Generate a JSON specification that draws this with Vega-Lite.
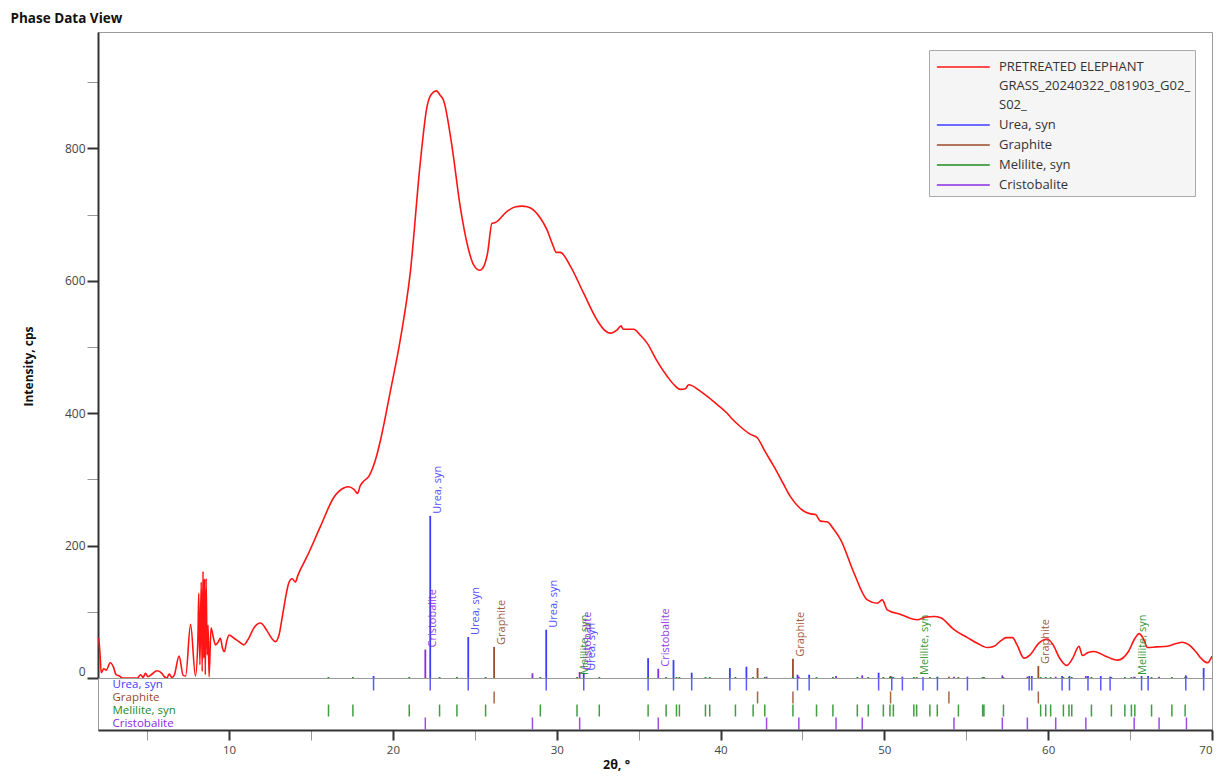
{
  "$schema": "https://vega.github.io/schema/vega-lite/v6.json",
  "padding": {"left": 10, "top": 12, "right": 4, "bottom": 2},
  "background": "white",
  "title": {
    "text": "Phase Data View",
    "anchor": "start",
    "font": "Open Sans",
    "fontSize": 13.5,
    "fontWeight": "bold",
    "color": "#111111",
    "dx": -11,
    "offset": 6
  },
  "config": {
    "font": "Open Sans",
    "view": {"stroke": "#9a9a9a", "strokeWidth": 1}
  },
  "bounds": "flush",
  "datasets": {
    "curve": [
      {"t": 2.05, "c": 60}, {"t": 2.12, "c": 38}, {"t": 2.2, "c": 8}, {"t": 2.35, "c": 14}, {"t": 2.5, "c": 12},
      {"t": 2.75, "c": 23}, {"t": 2.95, "c": 16}, {"t": 3.1, "c": 5}, {"t": 3.3, "c": 3}, {"t": 3.5, "c": 0},
      {"t": 4.4, "c": 0}, {"t": 4.6, "c": 5}, {"t": 4.75, "c": 1}, {"t": 4.9, "c": 7}, {"t": 5.05, "c": 2},
      {"t": 5.3, "c": 6}, {"t": 5.6, "c": 11}, {"t": 5.9, "c": 7}, {"t": 6.05, "c": 2}, {"t": 6.2, "c": 0},
      {"t": 6.35, "c": 6}, {"t": 6.5, "c": 1}, {"t": 6.65, "c": 4}, {"t": 6.95, "c": 33}, {"t": 7.2, "c": 4},
      {"t": 7.35, "c": 3}, {"t": 7.65, "c": 81}, {"t": 7.95, "c": 3}, {"t": 8.1, "c": 60}, {"t": 8.15, "c": 128},
      {"t": 8.22, "c": 20}, {"t": 8.3, "c": 145}, {"t": 8.36, "c": 10}, {"t": 8.41, "c": 161}, {"t": 8.46, "c": 30},
      {"t": 8.5, "c": 150}, {"t": 8.55, "c": 5}, {"t": 8.6, "c": 150}, {"t": 8.66, "c": 35}, {"t": 8.72, "c": 80},
      {"t": 8.78, "c": 2}, {"t": 8.9, "c": 76}, {"t": 9.05, "c": 60}, {"t": 9.17, "c": 50}, {"t": 9.35, "c": 55},
      {"t": 9.47, "c": 60}, {"t": 9.6, "c": 45}, {"t": 9.72, "c": 40}, {"t": 9.85, "c": 55}, {"t": 10.0, "c": 65},
      {"t": 10.3, "c": 60}, {"t": 10.6, "c": 55}, {"t": 10.9, "c": 50}, {"t": 11.2, "c": 60}, {"t": 11.5, "c": 75},
      {"t": 11.92, "c": 83}, {"t": 12.3, "c": 72}, {"t": 12.6, "c": 60}, {"t": 12.83, "c": 55}, {"t": 13.05, "c": 65},
      {"t": 13.3, "c": 100}, {"t": 13.65, "c": 144}, {"t": 13.85, "c": 150}, {"t": 14.05, "c": 145}, {"t": 14.2, "c": 155},
      {"t": 14.77, "c": 184}, {"t": 15.58, "c": 229}, {"t": 16.4, "c": 273}, {"t": 17.0, "c": 287}, {"t": 17.3, "c": 289},
      {"t": 17.62, "c": 285}, {"t": 17.85, "c": 279}, {"t": 18.0, "c": 290}, {"t": 18.2, "c": 297}, {"t": 18.54, "c": 305},
      {"t": 19.0, "c": 335}, {"t": 19.25, "c": 360}, {"t": 19.86, "c": 435}, {"t": 20.45, "c": 511}, {"t": 21.06, "c": 612},
      {"t": 21.67, "c": 778}, {"t": 22.08, "c": 863}, {"t": 22.35, "c": 882}, {"t": 22.65, "c": 887}, {"t": 22.9, "c": 880},
      {"t": 23.09, "c": 873}, {"t": 23.61, "c": 803}, {"t": 24.11, "c": 712}, {"t": 24.62, "c": 647}, {"t": 24.93, "c": 624},
      {"t": 25.29, "c": 616}, {"t": 25.55, "c": 622}, {"t": 25.78, "c": 642}, {"t": 26.05, "c": 687}, {"t": 26.25, "c": 688},
      {"t": 26.97, "c": 705}, {"t": 27.5, "c": 712}, {"t": 27.88, "c": 713}, {"t": 28.2, "c": 712}, {"t": 28.59, "c": 707},
      {"t": 29.0, "c": 695}, {"t": 29.41, "c": 677}, {"t": 29.75, "c": 655}, {"t": 29.98, "c": 643}, {"t": 30.22, "c": 643},
      {"t": 30.84, "c": 622}, {"t": 31.65, "c": 581}, {"t": 32.46, "c": 541}, {"t": 32.9, "c": 526}, {"t": 33.28, "c": 521},
      {"t": 33.69, "c": 526}, {"t": 33.93, "c": 532}, {"t": 34.05, "c": 527}, {"t": 34.19, "c": 527}, {"t": 34.7, "c": 527},
      {"t": 35.1, "c": 518}, {"t": 35.52, "c": 506}, {"t": 36.1, "c": 480}, {"t": 36.74, "c": 456}, {"t": 37.2, "c": 442},
      {"t": 37.55, "c": 436}, {"t": 37.85, "c": 437}, {"t": 38.06, "c": 443}, {"t": 38.78, "c": 433}, {"t": 39.8, "c": 413},
      {"t": 40.4, "c": 400}, {"t": 40.61, "c": 394}, {"t": 41.2, "c": 380}, {"t": 41.83, "c": 368}, {"t": 42.24, "c": 363},
      {"t": 42.7, "c": 343}, {"t": 43.25, "c": 320}, {"t": 43.8, "c": 295}, {"t": 44.27, "c": 274}, {"t": 45.09, "c": 252},
      {"t": 45.5, "c": 248}, {"t": 45.8, "c": 247}, {"t": 46.1, "c": 237}, {"t": 46.51, "c": 236}, {"t": 46.9, "c": 225},
      {"t": 47.33, "c": 209}, {"t": 48.14, "c": 159}, {"t": 48.96, "c": 118}, {"t": 49.57, "c": 113}, {"t": 49.87, "c": 118},
      {"t": 50.18, "c": 103}, {"t": 50.99, "c": 96}, {"t": 52.01, "c": 88}, {"t": 52.5, "c": 92}, {"t": 53.03, "c": 93},
      {"t": 53.44, "c": 91}, {"t": 54.25, "c": 73}, {"t": 55.07, "c": 61}, {"t": 55.7, "c": 52}, {"t": 56.29, "c": 46},
      {"t": 56.7, "c": 48}, {"t": 57.1, "c": 56}, {"t": 57.45, "c": 61}, {"t": 57.82, "c": 61}, {"t": 58.1, "c": 50},
      {"t": 58.52, "c": 30}, {"t": 58.9, "c": 35}, {"t": 59.4, "c": 52}, {"t": 59.95, "c": 59}, {"t": 60.3, "c": 50},
      {"t": 60.7, "c": 30}, {"t": 61.13, "c": 19}, {"t": 61.5, "c": 30}, {"t": 61.88, "c": 48}, {"t": 62.09, "c": 34},
      {"t": 62.4, "c": 38}, {"t": 62.8, "c": 40}, {"t": 63.5, "c": 33}, {"t": 64.23, "c": 27}, {"t": 64.9, "c": 40},
      {"t": 65.3, "c": 60}, {"t": 65.55, "c": 67}, {"t": 65.8, "c": 60}, {"t": 66.06, "c": 46}, {"t": 66.6, "c": 47},
      {"t": 67.28, "c": 48}, {"t": 67.8, "c": 52}, {"t": 68.2, "c": 54}, {"t": 68.6, "c": 50}, {"t": 69.0, "c": 40},
      {"t": 69.4, "c": 28}, {"t": 69.73, "c": 23}, {"t": 70.0, "c": 33}
    ],
    "lines": [
      {"phase": "Urea, syn", "t": 18.82, "i": 3, "lab": 0},
      {"phase": "Urea, syn", "t": 22.28, "i": 245, "lab": 1},
      {"phase": "Urea, syn", "t": 24.6, "i": 62, "lab": 1},
      {"phase": "Urea, syn", "t": 29.36, "i": 73, "lab": 1},
      {"phase": "Urea, syn", "t": 31.65, "i": 8, "lab": 1},
      {"phase": "Urea, syn", "t": 35.58, "i": 30, "lab": 0},
      {"phase": "Urea, syn", "t": 37.13, "i": 27, "lab": 0},
      {"phase": "Urea, syn", "t": 38.24, "i": 8, "lab": 0},
      {"phase": "Urea, syn", "t": 40.57, "i": 15, "lab": 0},
      {"phase": "Urea, syn", "t": 41.58, "i": 17, "lab": 0},
      {"phase": "Urea, syn", "t": 44.7, "i": 5, "lab": 0},
      {"phase": "Urea, syn", "t": 45.41, "i": 5, "lab": 0},
      {"phase": "Urea, syn", "t": 49.65, "i": 8, "lab": 0},
      {"phase": "Urea, syn", "t": 50.45, "i": 2, "lab": 0},
      {"phase": "Urea, syn", "t": 51.1, "i": 2, "lab": 0},
      {"phase": "Urea, syn", "t": 52.36, "i": 1, "lab": 0},
      {"phase": "Urea, syn", "t": 53.24, "i": 2, "lab": 0},
      {"phase": "Urea, syn", "t": 55.07, "i": 2, "lab": 0},
      {"phase": "Urea, syn", "t": 58.84, "i": 3, "lab": 0},
      {"phase": "Urea, syn", "t": 59.0, "i": 3, "lab": 0},
      {"phase": "Urea, syn", "t": 60.85, "i": 3, "lab": 0},
      {"phase": "Urea, syn", "t": 61.3, "i": 3, "lab": 0},
      {"phase": "Urea, syn", "t": 62.43, "i": 3, "lab": 0},
      {"phase": "Urea, syn", "t": 63.21, "i": 3, "lab": 0},
      {"phase": "Urea, syn", "t": 63.78, "i": 2, "lab": 0},
      {"phase": "Urea, syn", "t": 65.7, "i": 3, "lab": 0},
      {"phase": "Urea, syn", "t": 66.1, "i": 3, "lab": 0},
      {"phase": "Urea, syn", "t": 68.4, "i": 4, "lab": 0},
      {"phase": "Urea, syn", "t": 69.49, "i": 15, "lab": 0},
      {"phase": "Graphite", "t": 26.18, "i": 47, "lab": 1},
      {"phase": "Graphite", "t": 42.26, "i": 15, "lab": 0},
      {"phase": "Graphite", "t": 44.42, "i": 29, "lab": 1},
      {"phase": "Graphite", "t": 50.38, "i": 3, "lab": 0},
      {"phase": "Graphite", "t": 53.94, "i": 2, "lab": 0},
      {"phase": "Graphite", "t": 59.4, "i": 18, "lab": 1},
      {"phase": "Melilite, syn", "t": 16.07, "i": 1.5, "lab": 0},
      {"phase": "Melilite, syn", "t": 17.56, "i": 1.5, "lab": 0},
      {"phase": "Melilite, syn", "t": 21.0, "i": 1.5, "lab": 0},
      {"phase": "Melilite, syn", "t": 22.85, "i": 1.5, "lab": 0},
      {"phase": "Melilite, syn", "t": 23.91, "i": 1.5, "lab": 0},
      {"phase": "Melilite, syn", "t": 25.66, "i": 1.5, "lab": 0},
      {"phase": "Melilite, syn", "t": 29.0, "i": 1.5, "lab": 0},
      {"phase": "Melilite, syn", "t": 31.24, "i": 1.5, "lab": 1},
      {"phase": "Melilite, syn", "t": 32.6, "i": 1.5, "lab": 0},
      {"phase": "Melilite, syn", "t": 35.58, "i": 1.5, "lab": 0},
      {"phase": "Melilite, syn", "t": 36.68, "i": 1.5, "lab": 0},
      {"phase": "Melilite, syn", "t": 37.31, "i": 1.5, "lab": 0},
      {"phase": "Melilite, syn", "t": 37.49, "i": 1.5, "lab": 0},
      {"phase": "Melilite, syn", "t": 39.08, "i": 1.5, "lab": 0},
      {"phase": "Melilite, syn", "t": 39.34, "i": 1.5, "lab": 0},
      {"phase": "Melilite, syn", "t": 40.91, "i": 1.5, "lab": 0},
      {"phase": "Melilite, syn", "t": 41.99, "i": 1.5, "lab": 0},
      {"phase": "Melilite, syn", "t": 42.7, "i": 1.5, "lab": 0},
      {"phase": "Melilite, syn", "t": 44.42, "i": 1.5, "lab": 0},
      {"phase": "Melilite, syn", "t": 45.86, "i": 1.5, "lab": 0},
      {"phase": "Melilite, syn", "t": 46.86, "i": 1.5, "lab": 0},
      {"phase": "Melilite, syn", "t": 48.35, "i": 1.5, "lab": 0},
      {"phase": "Melilite, syn", "t": 49.02, "i": 1.5, "lab": 0},
      {"phase": "Melilite, syn", "t": 49.94, "i": 1.5, "lab": 0},
      {"phase": "Melilite, syn", "t": 50.34, "i": 1.5, "lab": 0},
      {"phase": "Melilite, syn", "t": 50.55, "i": 1.5, "lab": 0},
      {"phase": "Melilite, syn", "t": 51.8, "i": 1.5, "lab": 0},
      {"phase": "Melilite, syn", "t": 51.97, "i": 1.5, "lab": 1},
      {"phase": "Melilite, syn", "t": 52.78, "i": 1.5, "lab": 0},
      {"phase": "Melilite, syn", "t": 53.23, "i": 1.5, "lab": 0},
      {"phase": "Melilite, syn", "t": 54.52, "i": 1.5, "lab": 0},
      {"phase": "Melilite, syn", "t": 56.0, "i": 1.5, "lab": 0},
      {"phase": "Melilite, syn", "t": 56.08, "i": 1.5, "lab": 0},
      {"phase": "Melilite, syn", "t": 57.27, "i": 1.5, "lab": 0},
      {"phase": "Melilite, syn", "t": 59.54, "i": 1.5, "lab": 0},
      {"phase": "Melilite, syn", "t": 59.85, "i": 1.5, "lab": 0},
      {"phase": "Melilite, syn", "t": 60.15, "i": 1.5, "lab": 0},
      {"phase": "Melilite, syn", "t": 60.93, "i": 1.5, "lab": 0},
      {"phase": "Melilite, syn", "t": 61.27, "i": 1.5, "lab": 0},
      {"phase": "Melilite, syn", "t": 61.44, "i": 1.5, "lab": 0},
      {"phase": "Melilite, syn", "t": 62.64, "i": 1.5, "lab": 0},
      {"phase": "Melilite, syn", "t": 63.86, "i": 1.5, "lab": 0},
      {"phase": "Melilite, syn", "t": 64.68, "i": 1.5, "lab": 0},
      {"phase": "Melilite, syn", "t": 65.08, "i": 1.5, "lab": 0},
      {"phase": "Melilite, syn", "t": 65.29, "i": 1.5, "lab": 1},
      {"phase": "Melilite, syn", "t": 66.31, "i": 1.5, "lab": 0},
      {"phase": "Melilite, syn", "t": 67.55, "i": 1.5, "lab": 0},
      {"phase": "Melilite, syn", "t": 68.36, "i": 1.5, "lab": 0},
      {"phase": "Cristobalite", "t": 21.98, "i": 43, "lab": 1},
      {"phase": "Cristobalite", "t": 28.52, "i": 7, "lab": 0},
      {"phase": "Cristobalite", "t": 31.4, "i": 9, "lab": 1},
      {"phase": "Cristobalite", "t": 36.2, "i": 14, "lab": 1},
      {"phase": "Cristobalite", "t": 42.81, "i": 2, "lab": 0},
      {"phase": "Cristobalite", "t": 44.78, "i": 2, "lab": 0},
      {"phase": "Cristobalite", "t": 47.05, "i": 3, "lab": 0},
      {"phase": "Cristobalite", "t": 48.65, "i": 4, "lab": 0},
      {"phase": "Cristobalite", "t": 54.25, "i": 2, "lab": 0},
      {"phase": "Cristobalite", "t": 57.2, "i": 4, "lab": 0},
      {"phase": "Cristobalite", "t": 58.73, "i": 2, "lab": 0},
      {"phase": "Cristobalite", "t": 60.46, "i": 2, "lab": 0},
      {"phase": "Cristobalite", "t": 62.3, "i": 3, "lab": 0},
      {"phase": "Cristobalite", "t": 65.25, "i": 2, "lab": 0},
      {"phase": "Cristobalite", "t": 66.77, "i": 2, "lab": 0},
      {"phase": "Cristobalite", "t": 68.44, "i": 2, "lab": 0}
    ]
  },
  "spacing": 0,
  "resolve": {"scale": {"color": "independent"}},
  "vconcat": [
    {
      "width": 1114,
      "height": 646,
      "layer": [
        {
          "data": {"name": "curve"},
          "mark": {"type": "line", "strokeWidth": 1.6, "interpolate": "monotone", "clip": true},
          "encoding": {
            "x": {"field": "t", "type": "quantitative", "scale": {"domain": [2, 70], "nice": false, "zero": false}, "axis": null},
            "y": {
              "field": "c", "type": "quantitative",
              "scale": {"domain": [0, 976], "nice": false},
              "axis": {
                "values": [0, 100, 200, 300, 400, 500, 600, 700, 800, 900],
                "labelExpr": "datum.value % 200 === 0 ? datum.label : ''",
                "labelFlush": true,
                "grid": false,
                "tickSize": 11,
                "tickWidth": {"condition": {"test": "datum.value % 200 === 0", "value": 2}, "value": 1},
                "tickColor": {"condition": {"test": "datum.value % 200 === 0", "value": "#333333"}, "value": "#999999"},
                "domainColor": "#333333",
                "domainWidth": 2,
                "labelFontSize": 12,
                "labelColor": "#444444",
                "labelPadding": 2,
                "title": "Intensity, cps",
                "titleFontSize": 12,
                "titleFontWeight": "bold",
                "titleColor": "#111111",
                "titleBaseline": "middle",
                "titleX": -70,
                "titleY": 334
              }
            },
            "color": {
              "datum": "PRETREATED ELEPHANT GRASS_20240322_081903_G02_S02_",
              "type": "nominal",
              "title": null,
              "scale": {
                "domain": ["PRETREATED ELEPHANT GRASS_20240322_081903_G02_S02_", "Urea, syn", "Graphite", "Melilite, syn", "Cristobalite"],
                "range": ["#ff1414", "#3d3dff", "#9a4a2a", "#1e8c1e", "#8a2be2"]
              },
              "legend": {
                "orient": "none",
                "legendX": 831,
                "legendY": 18,
                "title": null,
                "symbolType": "M-1,2.5H19",
                "symbolSize": 28,
                "symbolStrokeWidth": 1.5,
                "labelFontSize": 13,
                "labelColor": "#333333",
                "labelLimit": 300,
                "labelOffset": 53,
                "labelBaseline": "top",
                "rowPadding": 0,
                "padding": 4,
                "fillColor": "#f5f5f5",
                "strokeColor": "#aaaaaa",
                "labelExpr": "datum.label === 'PRETREATED ELEPHANT GRASS_20240322_081903_G02_S02_' ? ['PRETREATED ELEPHANT', 'GRASS_20240322_081903_G02_', 'S02_'] : datum.label",
                "encode": {"labels": {"update": {"lineHeight": {"signal": "length(datum.label) > 30 ? 19 : 18"}}}}
              }
            }
          }
        },
        {
          "data": {"name": "lines"},
          "mark": {"type": "rule", "strokeWidth": 1.8},
          "encoding": {
            "x": {"field": "t", "type": "quantitative"},
            "y": {"field": "i", "type": "quantitative"},
            "y2": {"datum": 0},
            "color": {"field": "phase", "type": "nominal", "title": null}
          }
        },
        {
          "data": {"name": "lines"},
          "transform": [{"filter": "datum.lab === 1"}],
          "mark": {"type": "text", "angle": 270, "align": "left", "baseline": "middle", "dx": 2, "dy": 8, "fontSize": 11, "opacity": 0.9},
          "encoding": {
            "x": {"field": "t", "type": "quantitative"},
            "y": {"field": "i", "type": "quantitative"},
            "text": {"field": "phase"},
            "color": {"field": "phase", "type": "nominal", "title": null}
          }
        }
      ]
    },
    {
      "width": 1114,
      "height": 52,
      "data": {"name": "lines"},
      "mark": {"type": "tick", "size": 12, "thickness": 1.5, "opacity": 0.85},
      "encoding": {
        "x": {
          "field": "t", "type": "quantitative",
          "scale": {"domain": [2, 70], "nice": false, "zero": false},
          "axis": {
            "values": [5, 10, 15, 20, 25, 30, 35, 40, 45, 50, 55, 60, 65, 70],
            "labelExpr": "datum.value % 10 === 0 ? datum.label : ''",
            "grid": false,
            "tickSize": 10,
            "tickWidth": {"condition": {"test": "datum.value % 10 === 0", "value": 2}, "value": 1},
            "tickColor": {"condition": {"test": "datum.value % 10 === 0", "value": "#333333"}, "value": "#999999"},
            "domainColor": "#333333",
            "domainWidth": 2,
            "labelFontSize": 11.5,
            "labelColor": "#444444",
            "labelPadding": 4,
            "title": "2θ, °",
            "titleFontSize": 12.5,
            "titleFontWeight": "bold",
            "titleColor": "#111111",
            "titleX": 518,
            "titlePadding": 3
          }
        },
        "y": {
          "field": "phase", "type": "nominal",
          "sort": ["Urea, syn", "Graphite", "Melilite, syn", "Cristobalite"],
          "scale": {"type": "point", "padding": 0.5},
          "axis": {
            "title": null,
            "domain": false,
            "ticks": false,
            "tickSize": 0,
            "labelAlign": "left",
            "labelBaseline": "middle",
            "labelPadding": -14,
            "labelFontSize": 11.5,
            "labelColor": {
              "condition": [
                {"test": "datum.value === 'Urea, syn'", "value": "#3d3dff"},
                {"test": "datum.value === 'Graphite'", "value": "#9a4a2a"},
                {"test": "datum.value === 'Melilite, syn'", "value": "#1e8c1e"}
              ],
              "value": "#8a2be2"
            }
          }
        },
        "color": {
          "field": "phase", "type": "nominal",
          "scale": {
            "domain": ["Urea, syn", "Graphite", "Melilite, syn", "Cristobalite"],
            "range": ["#3d3dff", "#9a4a2a", "#1e8c1e", "#8a2be2"]
          },
          "legend": null
        }
      }
    }
  ]
}
